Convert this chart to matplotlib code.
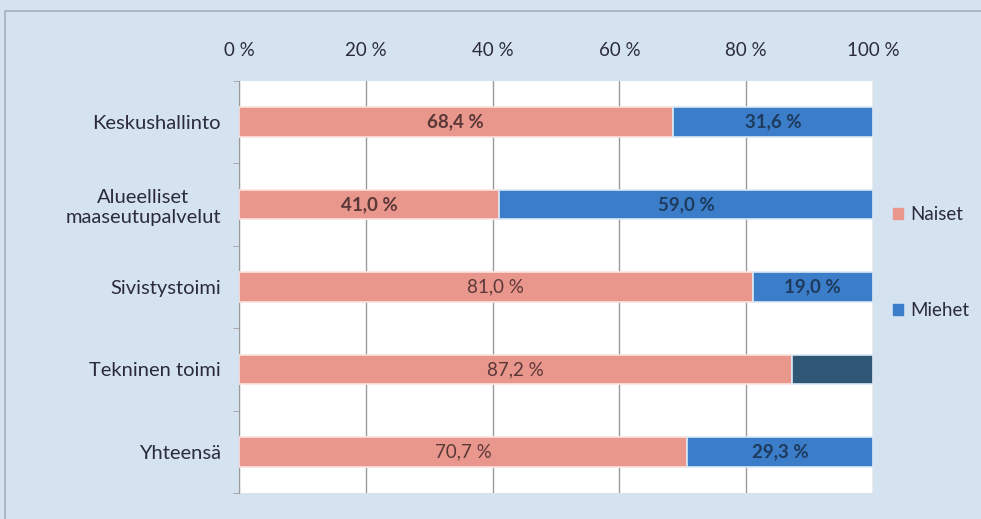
import matplotlib.pyplot as plt
import numpy as np
from matplotlib.patches import Rectangle
from matplotlib.ticker import FuncFormatter

plt.rcParams["font.family"] = ["Lato", "DejaVu Sans"]

categories = [
    "Keskushallinto",
    "Alueelliset\nmaaseutupalvelut",
    "Sivistystoimi",
    "Tekninen toimi",
    "Yhteensä",
]
naiset = [68.4, 41.0, 81.0, 87.2, 70.7]
miehet = [31.6, 59.0, 19.0, 12.8, 29.3]
miehet_labels = ["31,6 %", "59,0 %", "19,0 %", "", "29,3 %"]
miehet_colors = ["#3b7dc9", "#3b7dc9", "#3b7dc9", "#2f5674", "#3b7dc9"]
naiset_weights = ["bold", "bold", "normal", "normal", "normal"]

fig = plt.figure(figsize=(9.81, 5.19), dpi=100)
fig.patch.set_facecolor("#d5e3f0")
# thin frame of the scanned chart
fig.patches.append(Rectangle((0.005, -0.01), 1.2, 0.988, transform=fig.transFigure,
                             fill=False, edgecolor="#a8b0b8", linewidth=1.2))
ax = fig.add_axes([0.2436, 0.050, 0.6463, 0.794])
ax.set_facecolor("white")

y = np.arange(len(categories))
bar_h = 0.36
fs = 13.5

ax.barh(y, naiset, height=bar_h, color="#e9968c", edgecolor="#fbe3de", linewidth=1.2, zorder=3)
ax.barh(y, miehet, left=naiset, height=bar_h, color=miehet_colors, edgecolor="#dbe8f5", linewidth=1.2, zorder=3)

for i, v in enumerate(naiset):
    ax.text(v / 2, i, f"{v:.1f} %".replace(".", ","), ha="center", va="center",
            fontsize=fs, color="#5a3838", fontweight=naiset_weights[i], zorder=4)
for i, (n, lab) in enumerate(zip(naiset, miehet_labels)):
    if lab:
        ax.text(n + miehet[i] / 2, i, lab, ha="center", va="center",
                fontsize=fs, color="#1e3a5c", fontweight="bold", zorder=4)

ax.set_xlim(0, 100)
ax.set_ylim(len(categories) - 0.5, -0.5)
ax.set_xticks(np.arange(0, 101, 20))
ax.xaxis.set_major_formatter(FuncFormatter(lambda v, p: f"{int(v)} %"))
ax.xaxis.tick_top()
ax.tick_params(axis="x", length=0, pad=16, labelsize=fs, colors="#2b2b3b")
ax.set_yticks(y)
ax.set_yticklabels(categories, fontsize=14.5, color="#2b2b3b", ha="right", multialignment="center")
ax.set_yticks(np.arange(-0.5, len(categories), 1), minor=True)
ax.tick_params(axis="y", which="major", length=0, pad=13)
ax.tick_params(axis="y", which="minor", length=4, color="#a0a0a0", direction="out")
ax.grid(axis="x", color="#9a9a9a", linewidth=1.0, zorder=0)

for side in ["top", "right", "bottom"]:
    ax.spines[side].set_visible(False)
ax.spines["left"].set_color("#9a9a9a")

handles = [
    plt.Rectangle((0, 0), 1, 1, color="#e9968c"),
    plt.Rectangle((0, 0), 1, 1, color="#3b7dc9"),
]
fig.legend(handles, ["Naiset", "Miehet"], loc="center left", bbox_to_anchor=(0.893, 0.494),
           frameon=False, fontsize=fs, handlelength=0.55, handleheight=0.55,
           handletextpad=0.4, labelspacing=4.2, labelcolor="#2b2b3b")

fig.savefig("out.png", dpi=100, facecolor=fig.get_facecolor())
